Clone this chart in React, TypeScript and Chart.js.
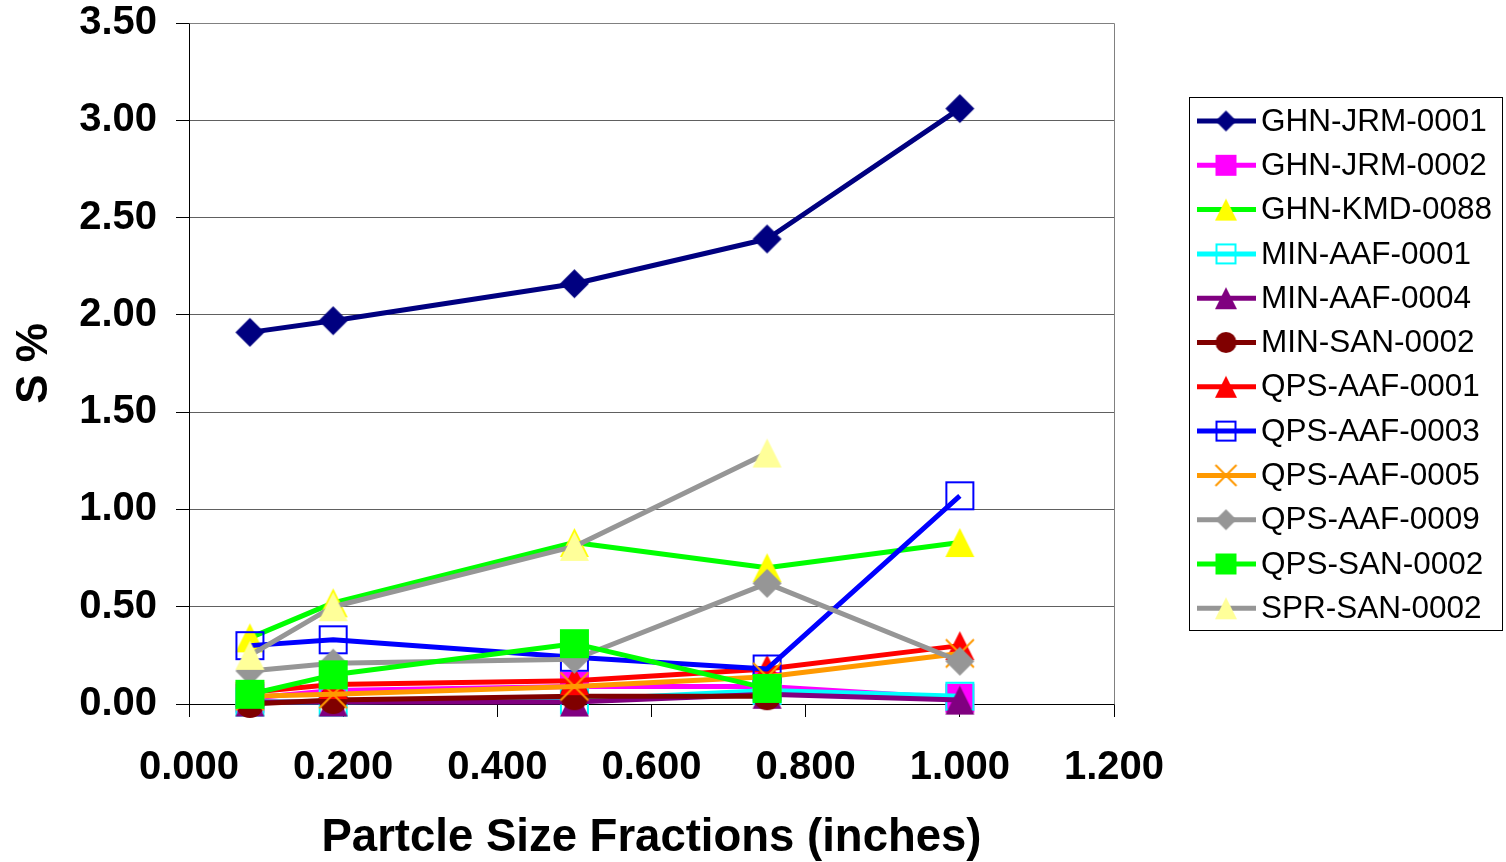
import React, { useEffect, useRef } from 'react';
import { Chart, registerables } from 'chart.js';

Chart.register(...registerables);

// Particle size fractions (inches) used as the x positions of every series
const sizeFractions = [0.079, 0.187, 0.5, 0.75, 1.0];

// Sulphur content (S %) per sample; null where no fraction was measured
const ghnJrm0001 = [1.91, 1.97, 2.16, 2.39, 3.06];
const ghnJrm0002 = [0.03, 0.07, 0.09, 0.09, 0.03];
const ghnKmd0088 = [0.34, 0.52, 0.83, 0.7, 0.83];
const minAaf0001 = [0.01, 0.01, 0.02, 0.07, 0.04];
const minAaf0004 = [0.01, 0.01, 0.01, 0.05, 0.02];
const minSan0002 = [0.0, 0.02, 0.04, 0.04, null];
const qpsAaf0001 = [0.06, 0.1, 0.12, 0.18, 0.3];
const qpsAaf0003 = [0.3, 0.33, 0.24, 0.18, 1.07];
const qpsAaf0005 = [0.04, 0.05, 0.09, 0.14, 0.26];
const qpsAaf0009 = [0.17, 0.21, 0.23, 0.62, 0.22];
const qpsSan0002 = [0.05, 0.15, 0.31, 0.08, null];
const sprSan0002 = [0.25, 0.5, 0.81, 1.29, null];

const sampleNames = [
  'GHN-JRM-0001',
  'GHN-JRM-0002',
  'GHN-KMD-0088',
  'MIN-AAF-0001',
  'MIN-AAF-0004',
  'MIN-SAN-0002',
  'QPS-AAF-0001',
  'QPS-AAF-0003',
  'QPS-AAF-0005',
  'QPS-AAF-0009',
  'QPS-SAN-0002',
  'SPR-SAN-0002',
];

const sampleValues = [
  ghnJrm0001,
  ghnJrm0002,
  ghnKmd0088,
  minAaf0001,
  minAaf0004,
  minSan0002,
  qpsAaf0001,
  qpsAaf0003,
  qpsAaf0005,
  qpsAaf0009,
  qpsSan0002,
  sprSan0002,
];

const xTickValues = [0, 0.2, 0.4, 0.6, 0.8, 1.0, 1.2];
const xTickLabels = ['0.000', '0.200', '0.400', '0.600', '0.800', '1.000', '1.200'];
const yTickValues = [0, 0.5, 1.0, 1.5, 2.0, 2.5, 3.0, 3.5];
const yTickLabels = ['0.00', '0.50', '1.00', '1.50', '2.00', '2.50', '3.00', '3.50'];

type MarkerKind = 'diamond' | 'square' | 'openSquare' | 'triangle' | 'circle' | 'cross';

interface SeriesStyle {
  line: string;
  marker: MarkerKind;
  markerColor: string;
}

const seriesStyles: SeriesStyle[] = [
  { line: '#000080', marker: 'diamond', markerColor: '#000080' },
  { line: '#FF00FF', marker: 'square', markerColor: '#FF00FF' },
  { line: '#00FF00', marker: 'triangle', markerColor: '#FFFF00' },
  { line: '#00FFFF', marker: 'openSquare', markerColor: '#00FFFF' },
  { line: '#800080', marker: 'triangle', markerColor: '#800080' },
  { line: '#800000', marker: 'circle', markerColor: '#800000' },
  { line: '#FF0000', marker: 'triangle', markerColor: '#FF0000' },
  { line: '#0000FF', marker: 'openSquare', markerColor: '#0000FF' },
  { line: '#FF9900', marker: 'cross', markerColor: '#FF9900' },
  { line: '#969696', marker: 'diamond', markerColor: '#969696' },
  { line: '#00FF00', marker: 'square', markerColor: '#00FF00' },
  { line: '#969696', marker: 'triangle', markerColor: '#FFFF99' },
];

const FONT = '"Liberation Sans", Arial, Helvetica, sans-serif';

function makeMarker(kind: MarkerKind, size: number, color: string): HTMLCanvasElement {
  const pad = 2;
  const dim = Math.ceil(size + pad * 2);
  const c = document.createElement('canvas');
  c.width = dim;
  c.height = dim;
  const ctx = c.getContext('2d') as CanvasRenderingContext2D;
  const m = dim / 2;
  const h = size / 2;
  ctx.fillStyle = color;
  ctx.strokeStyle = color;
  ctx.beginPath();
  switch (kind) {
    case 'diamond':
      ctx.moveTo(m, m - h);
      ctx.lineTo(m + h, m);
      ctx.lineTo(m, m + h);
      ctx.lineTo(m - h, m);
      ctx.closePath();
      ctx.fill();
      break;
    case 'square':
      ctx.fillRect(m - h, m - h, size, size);
      break;
    case 'openSquare':
      ctx.lineWidth = 2;
      ctx.strokeRect(m - h + 1, m - h + 1, size - 2, size - 2);
      break;
    case 'triangle':
      ctx.moveTo(m, m - h);
      ctx.lineTo(m + h, m + h);
      ctx.lineTo(m - h, m + h);
      ctx.closePath();
      ctx.fill();
      break;
    case 'circle':
      ctx.arc(m, m, h, 0, Math.PI * 2);
      ctx.fill();
      break;
    case 'cross':
      ctx.lineWidth = 2;
      ctx.moveTo(m - h, m - h);
      ctx.lineTo(m + h, m + h);
      ctx.moveTo(m + h, m - h);
      ctx.lineTo(m - h, m + h);
      ctx.stroke();
      break;
  }
  return c;
}

function markerSize(kind: MarkerKind, legend: boolean): number {
  if (legend) return kind === 'triangle' ? 22 : 21;
  if (kind === 'circle') return 28;
  if (kind === 'cross') return 28;
  return 29;
}

// Boxed legend on the right: line sample with the marker centred on it
const sideLegend = {
  id: 'sideLegend',
  afterDraw(chart: any) {
    const ctx: CanvasRenderingContext2D = chart.ctx;
    const box = { x: 1189.5, y: 97.5, w: 313, h: 533 };
    const rowTop = 121;
    const rowStep = 44.3;
    ctx.save();
    ctx.fillStyle = '#FFFFFF';
    ctx.fillRect(box.x, box.y, box.w, box.h);
    ctx.strokeStyle = '#000000';
    ctx.lineWidth = 1;
    ctx.strokeRect(box.x, box.y, box.w, box.h);
    ctx.font = `31.5px ${FONT}`;
    ctx.textBaseline = 'middle';
    ctx.textAlign = 'left';
    sampleNames.forEach((name, i) => {
      const st = seriesStyles[i];
      const y = rowTop + i * rowStep;
      ctx.strokeStyle = st.line;
      ctx.lineWidth = 5;
      ctx.beginPath();
      ctx.moveTo(1197, y);
      ctx.lineTo(1256, y);
      ctx.stroke();
      const mk = makeMarker(st.marker, markerSize(st.marker, true), st.markerColor);
      ctx.drawImage(mk, 1226 - mk.width / 2, y - mk.height / 2);
      ctx.fillStyle = '#000000';
      ctx.fillText(name, 1261, y + 1);
    });
    ctx.restore();
  },
};

// Grey frame along the top and right edges of the plot area
const plotFrame = {
  id: 'plotFrame',
  beforeDatasetsDraw(chart: any) {
    const { ctx, chartArea } = chart;
    ctx.save();
    ctx.strokeStyle = '#808080';
    ctx.lineWidth = 1;
    ctx.beginPath();
    ctx.moveTo(Math.round(chartArea.left) + 0.5, Math.round(chartArea.top) + 0.5);
    ctx.lineTo(Math.round(chartArea.right) + 0.5, Math.round(chartArea.top) + 0.5);
    ctx.lineTo(Math.round(chartArea.right) + 0.5, Math.round(chartArea.bottom) + 0.5);
    ctx.stroke();
    ctx.restore();
  },
};

export default function App() {
  const canvasRef = useRef<HTMLCanvasElement | null>(null);

  useEffect(() => {
    document.body.style.margin = '0';
    document.body.style.overflow = 'hidden';
    const canvas = canvasRef.current;
    if (!canvas) return;

    const n = sampleNames.length;
    const datasets = sampleNames.map((name, i) => {
      const st = seriesStyles[i];
      const points = sizeFractions
        .map((x, j) => ({ x, y: sampleValues[i][j] }))
        .filter((p) => p.y !== null && p.y !== undefined);
      return {
        label: name,
        data: points,
        borderColor: st.line,
        backgroundColor: st.line,
        borderWidth: 5,
        borderJoinStyle: 'round' as const,
        tension: 0,
        showLine: true,
        pointStyle: makeMarker(st.marker, markerSize(st.marker, false), st.markerColor),
        pointRadius: 12,
        pointHoverRadius: 12,
        clip: false as const,
        // later samples are drawn over earlier ones
        order: n - i,
      };
    });

    const chart = new Chart(canvas, {
      type: 'scatter',
      data: { datasets },
      plugins: [plotFrame, sideLegend],
      options: {
        responsive: false,
        animation: false,
        events: [],
        layout: { padding: { top: 23, right: 392, left: 0, bottom: 0 } },
        plugins: {
          legend: { display: false },
          tooltip: { enabled: false },
        },
        scales: {
          x: {
            type: 'linear',
            min: 0,
            max: 1.2,
            afterBuildTicks: (scale: any) => {
              scale.ticks = xTickValues.map((v) => ({ value: v }));
            },
            afterFit: (scale: any) => {
              scale.height = 158;
              scale.paddingLeft = 0;
              scale.paddingRight = 0;
            },
            ticks: {
              callback: (_v: any, i: number) => xTickLabels[i],
              font: { family: FONT, size: 40, weight: 'bold' },
              color: '#000000',
              padding: 27,
              maxRotation: 0,
              autoSkip: false,
            },
            grid: {
              drawOnChartArea: false,
              drawTicks: true,
              tickLength: 13,
              tickColor: '#000000',
              tickWidth: 1,
            },
            border: { color: '#000000', width: 1 },
            title: {
              display: true,
              text: 'Partcle Size Fractions (inches)',
              color: '#000000',
              font: { family: FONT, size: 45.5, weight: 'bold', lineHeight: 1 },
              padding: { top: 0, bottom: 1 },
            },
          },
          y: {
            type: 'linear',
            min: 0,
            max: 3.5,
            afterBuildTicks: (scale: any) => {
              scale.ticks = yTickValues.map((v) => ({ value: v }));
            },
            afterFit: (scale: any) => {
              scale.width = 189;
              scale.paddingTop = 0;
              scale.paddingBottom = 0;
            },
            ticks: {
              callback: (_v: any, i: number) => yTickLabels[i],
              font: { family: FONT, size: 40, weight: 'bold' },
              color: '#000000',
              padding: 19,
              autoSkip: false,
            },
            grid: {
              color: '#606060',
              lineWidth: 1,
              drawTicks: true,
              tickLength: 13,
              tickColor: '#000000',
              tickWidth: 1,
            },
            border: { color: '#000000', width: 1 },
            title: {
              display: true,
              text: 'S %',
              color: '#000000',
              font: { family: FONT, size: 44, weight: 'bold', lineHeight: 1 },
              padding: { top: 13, bottom: 0 },
            },
          },
        },
      } as any,
    });

    return () => {
      chart.destroy();
    };
  }, []);

  return (
    <div style={{ width: 1506, height: 862, background: '#FFFFFF' }}>
      <canvas ref={canvasRef} width={1506} height={862} style={{ display: 'block' }} />
    </div>
  );
}
